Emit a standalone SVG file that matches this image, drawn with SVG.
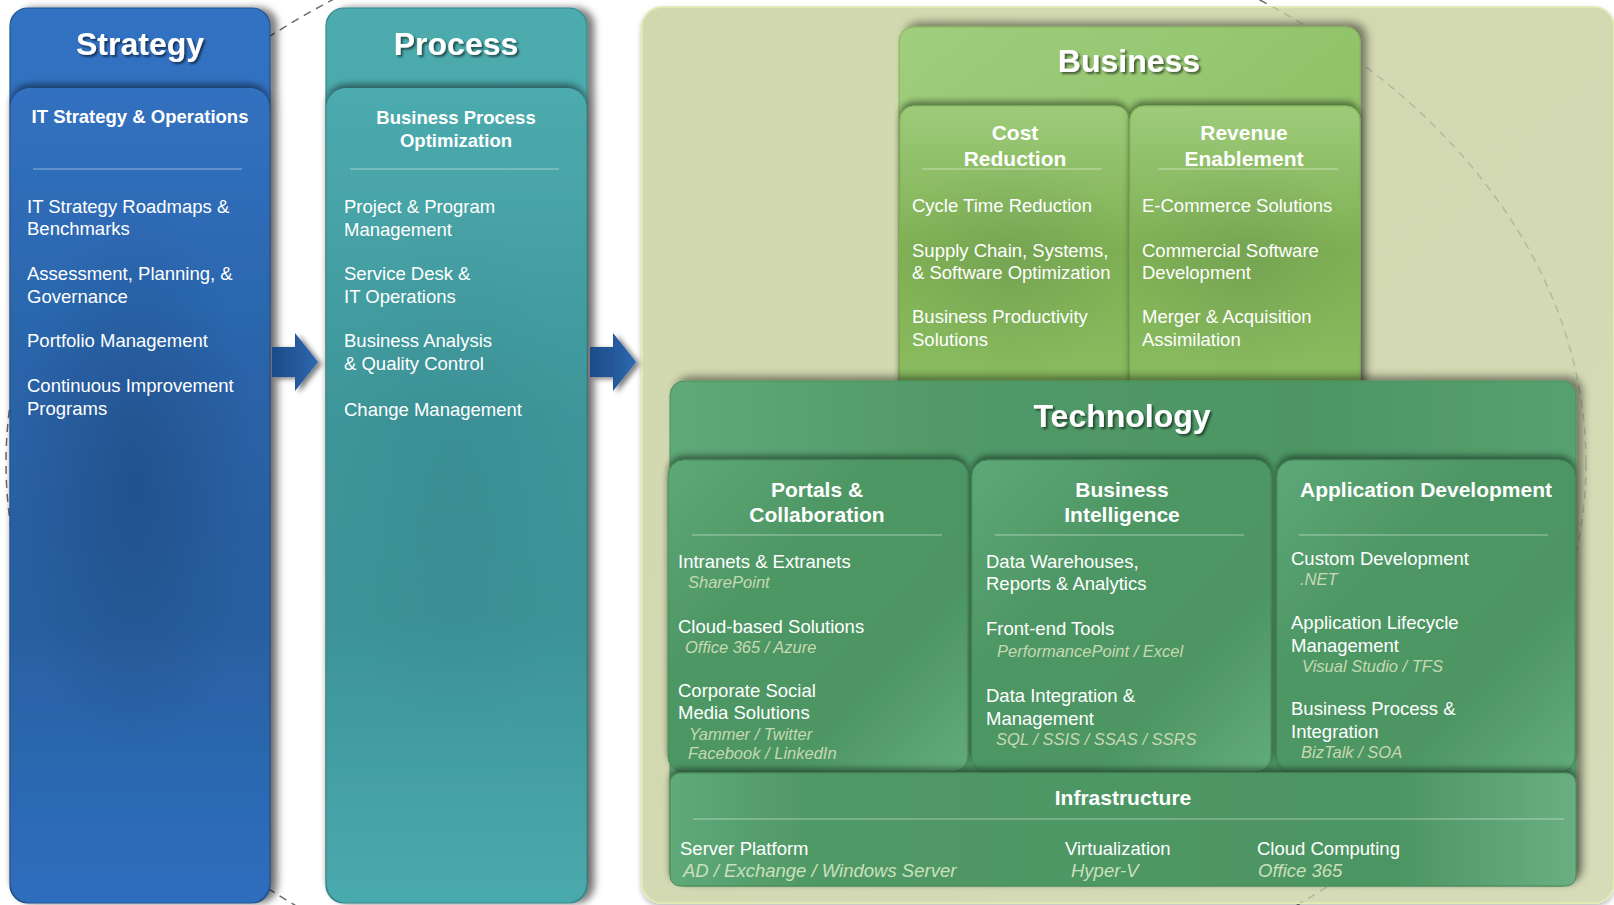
<svg xmlns="http://www.w3.org/2000/svg" width="1614" height="905" viewBox="0 0 1614 905">
<defs>
<style>
text{font-family:"Liberation Sans",Arial,Helvetica,sans-serif;fill:#ffffff}
.h1{font-size:32px;font-weight:bold;text-anchor:middle}
.h2{font-size:21px;font-weight:bold;text-anchor:middle}
.h3{font-size:18.5px;font-weight:bold;text-anchor:middle}
.it{font-size:18.5px}
.sub{font-size:16.5px;font-style:italic;fill:#c6d9b2}
.isub{font-size:18.5px;font-style:italic;fill:#cbe0bc}
.sep{stroke:#ffffff;stroke-opacity:.32;stroke-width:1.5}
.dash{fill:none;stroke-width:1.5;stroke-dasharray:8 6}
</style>
<filter id="tsh" x="-10%" y="-30%" width="130%" height="170%">
<feDropShadow dx="2" dy="2" stdDeviation="1.2" flood-color="#000" flood-opacity=".55"/>
</filter>
<filter id="colsh" x="-10%" y="-5%" width="125%" height="110%">
<feDropShadow dx="7" dy="0" stdDeviation="3.5" flood-color="#000" flood-opacity=".5"/>
</filter>
<filter id="cardsh" x="-10%" y="-10%" width="120%" height="120%">
<feDropShadow dx="0" dy="-4" stdDeviation="3" flood-color="#000" flood-opacity=".45"/>
</filter>
<filter id="pansh" x="-10%" y="-10%" width="120%" height="120%">
<feDropShadow dx="6" dy="-4" stdDeviation="4" flood-color="#000" flood-opacity=".45"/>
</filter>
<filter id="bgsh" x="-5%" y="-5%" width="110%" height="110%">
<feDropShadow dx="0" dy="3" stdDeviation="2.5" flood-color="#000" flood-opacity=".25"/>
</filter>
<filter id="arsh" x="-20%" y="-20%" width="150%" height="150%">
<feDropShadow dx="4" dy="2" stdDeviation="2.5" flood-color="#000" flood-opacity=".5"/>
</filter>
<linearGradient id="gStH" x1="0" y1="0" x2="0" y2="1"><stop offset="0" stop-color="#3272c2"/><stop offset="1" stop-color="#2b65ad"/></linearGradient>
<linearGradient id="gSt" x1="0" y1="0" x2="0" y2="1"><stop offset="0" stop-color="#3171c0"/><stop offset=".4" stop-color="#2962a6"/><stop offset=".65" stop-color="#2860a0"/><stop offset="1" stop-color="#2e6ebe"/></linearGradient>
<linearGradient id="gPrH" x1="0" y1="0" x2="0" y2="1"><stop offset="0" stop-color="#4dabad"/><stop offset="1" stop-color="#41a0a3"/></linearGradient>
<linearGradient id="gPr" x1="0" y1="0" x2="0" y2="1"><stop offset="0" stop-color="#4cabae"/><stop offset=".4" stop-color="#3e9699"/><stop offset=".65" stop-color="#3c9397"/><stop offset="1" stop-color="#4aaaad"/></linearGradient>
<radialGradient id="gDark" cx=".5" cy=".5" r=".5"><stop offset="0" stop-color="#0a1e3c" stop-opacity=".22"/><stop offset="1" stop-color="#0a1e3c" stop-opacity="0"/></radialGradient>
<linearGradient id="gAr" x1="0" y1="0" x2="1" y2="0"><stop offset="0" stop-color="#1c4c88"/><stop offset=".5" stop-color="#24589a"/><stop offset="1" stop-color="#2d69b0"/></linearGradient>
<linearGradient id="gBg" x1="0" y1="0" x2="1" y2="1"><stop offset="0" stop-color="#d1d8ae"/><stop offset=".6" stop-color="#d3d9b2"/><stop offset="1" stop-color="#d6dcb8"/></linearGradient>
<linearGradient id="gBzH" x1="0" y1="0" x2="1" y2="1"><stop offset="0" stop-color="#9fce7d"/><stop offset="1" stop-color="#86ba5b"/></linearGradient>
<linearGradient id="gBz" x1="0" y1="0" x2="0" y2="1"><stop offset="0" stop-color="#9dcb79"/><stop offset=".5" stop-color="#7eaf53"/><stop offset="1" stop-color="#8bbd61"/></linearGradient>
<linearGradient id="gTc" x1="0" y1="0" x2="1" y2="0"><stop offset="0" stop-color="#5fa978"/><stop offset=".3" stop-color="#519a68"/><stop offset=".7" stop-color="#4d9664"/><stop offset="1" stop-color="#56a16f"/></linearGradient>
<linearGradient id="gCol" x1="0" y1="0" x2="1" y2="1"><stop offset="0" stop-color="#5da877"/><stop offset=".35" stop-color="#4e9765"/><stop offset=".7" stop-color="#4d9664"/><stop offset="1" stop-color="#62ab7a"/></linearGradient>
<linearGradient id="gInf" x1="0" y1="0" x2="1" y2="0"><stop offset="0" stop-color="#5fa979"/><stop offset=".15" stop-color="#509966"/><stop offset=".8" stop-color="#4c9563"/><stop offset="1" stop-color="#6aaf81"/></linearGradient>
<clipPath id="bgclip"><rect x="642" y="7" width="972" height="896" rx="20"/></clipPath>
</defs>

<rect width="1614" height="905" fill="#ffffff"/>
<ellipse class="dash" cx="796" cy="463" rx="790" ry="572" stroke="#6a6a6a"/>

<g id="background-panel">
<rect x="642" y="7" width="972" height="896" rx="20" fill="url(#gBg)" stroke="#e2eab4" stroke-width="2" filter="url(#bgsh)"/>
<ellipse class="dash" cx="796" cy="463" rx="790" ry="572" stroke="#b4b8a0" clip-path="url(#bgclip)"/>
</g>

<g id="strategy">
<g filter="url(#colsh)">
<rect x="10" y="8" width="260" height="895" rx="18" fill="url(#gStH)" stroke="#21528e" stroke-width="1.2"/>
<rect x="10.6" y="88" width="258.8" height="814.4" rx="20" fill="url(#gSt)" filter="url(#cardsh)"/>
</g>
<rect x="15" y="200" width="240" height="560" fill="url(#gDark)"/>
<text class="h1" x="140" y="55" filter="url(#tsh)">Strategy</text>
<text class="h3" x="140" y="123">IT Strategy &amp; Operations</text>
<line class="sep" x1="33" y1="169" x2="242" y2="169"/>
<text class="it" x="27" y="213">IT Strategy Roadmaps &amp;</text>
<text class="it" x="27" y="235">Benchmarks</text>
<text class="it" x="27" y="280">Assessment, Planning, &amp;</text>
<text class="it" x="27" y="303">Governance</text>
<text class="it" x="27" y="347">Portfolio Management</text>
<text class="it" x="27" y="392">Continuous Improvement</text>
<text class="it" x="27" y="415">Programs</text>
</g>

<g id="process">
<g filter="url(#colsh)">
<rect x="326" y="8" width="261" height="895" rx="18" fill="url(#gPrH)" stroke="#34878b" stroke-width="1.2"/>
<rect x="326.6" y="88" width="259.8" height="814.4" rx="20" fill="url(#gPr)" filter="url(#cardsh)"/>
</g>
<rect x="331" y="200" width="250" height="560" fill="url(#gDark)" opacity=".25"/>
<text class="h1" x="456" y="55" filter="url(#tsh)">Process</text>
<text class="h3" x="456" y="124">Business Process</text>
<text class="h3" x="456" y="147">Optimization</text>
<line class="sep" x1="350" y1="169" x2="559" y2="169"/>
<text class="it" x="344" y="213">Project &amp; Program</text>
<text class="it" x="344" y="236">Management</text>
<text class="it" x="344" y="280">Service Desk &amp;</text>
<text class="it" x="344" y="303">IT Operations</text>
<text class="it" x="344" y="347">Business Analysis</text>
<text class="it" x="344" y="370">&amp; Quality Control</text>
<text class="it" x="344" y="416">Change Management</text>
</g>

<g id="connectors">
<path d="M272,347 H295 V333 L318,362 L295,391 V377 H272 Z" fill="url(#gAr)" filter="url(#arsh)"/>
<path d="M590,347 H613 V333 L636,362 L613,391 V377 H590 Z" fill="url(#gAr)" filter="url(#arsh)"/>
</g>

<g id="business">
<rect x="899" y="27" width="461" height="370" rx="14" fill="url(#gBzH)" stroke="#7fb454" stroke-width="1" filter="url(#pansh)"/>
<g id="cost-reduction">
<rect x="900" y="106" width="229" height="290" rx="14" fill="url(#gBz)" stroke="#80b556" stroke-width="1" filter="url(#cardsh)"/>
<rect x="905" y="150" width="220" height="230" fill="url(#gDark)" opacity=".35"/>
<text class="h2" x="1015" y="140">Cost</text>
<text class="h2" x="1015" y="166">Reduction</text>
<line class="sep" x1="922" y1="169" x2="1102" y2="169"/>
<text class="it" x="912" y="212">Cycle Time Reduction</text>
<text class="it" x="912" y="257">Supply Chain, Systems,</text>
<text class="it" x="912" y="279">&amp; Software Optimization</text>
<text class="it" x="912" y="323">Business Productivity</text>
<text class="it" x="912" y="346">Solutions</text>
</g>
<g id="revenue-enablement">
<rect x="1130" y="106" width="230" height="290" rx="14" fill="url(#gBz)" stroke="#80b556" stroke-width="1" filter="url(#cardsh)"/>
<rect x="1135" y="150" width="220" height="230" fill="url(#gDark)" opacity=".35"/>
<text class="h2" x="1244" y="140">Revenue</text>
<text class="h2" x="1244" y="166">Enablement</text>
<line class="sep" x1="1158" y1="169" x2="1338" y2="169"/>
<text class="it" x="1142" y="212">E-Commerce Solutions</text>
<text class="it" x="1142" y="257">Commercial Software</text>
<text class="it" x="1142" y="279">Development</text>
<text class="it" x="1142" y="323">Merger &amp; Acquisition</text>
<text class="it" x="1142" y="346">Assimilation</text>
</g>
<text class="h1" x="1129" y="72" filter="url(#tsh)">Business</text>
</g>

<g id="technology">
<rect x="670" y="381" width="906" height="505" rx="14" fill="url(#gTc)" stroke="#4a8f5e" stroke-width="1" filter="url(#pansh)"/>
<text class="h1" x="1122" y="427" filter="url(#tsh)">Technology</text>
<g id="portals">
<rect x="668" y="460" width="300" height="312" rx="16" fill="url(#gCol)" stroke="#468b5b" stroke-width="1" filter="url(#cardsh)"/>
<text class="h2" x="817" y="497">Portals &amp;</text>
<text class="h2" x="817" y="522">Collaboration</text>
<line class="sep" x1="692" y1="535" x2="942" y2="535"/>
<text class="it" x="678" y="568">Intranets &amp; Extranets</text>
<text class="sub" x="688" y="588">SharePoint</text>
<text class="it" x="678" y="633">Cloud-based Solutions</text>
<text class="sub" x="685" y="653">Office 365 / Azure</text>
<text class="it" x="678" y="697">Corporate Social</text>
<text class="it" x="678" y="719">Media Solutions</text>
<text class="sub" x="689" y="740">Yammer / Twitter</text>
<text class="sub" x="688" y="759">Facebook / LinkedIn</text>
</g>
<g id="business-intelligence">
<rect x="972" y="460" width="299" height="312" rx="16" fill="url(#gCol)" stroke="#468b5b" stroke-width="1" filter="url(#cardsh)"/>
<text class="h2" x="1122" y="497">Business</text>
<text class="h2" x="1122" y="522">Intelligence</text>
<line class="sep" x1="995" y1="535" x2="1244" y2="535"/>
<text class="it" x="986" y="568">Data Warehouses,</text>
<text class="it" x="986" y="590">Reports &amp; Analytics</text>
<text class="it" x="986" y="635">Front-end Tools</text>
<text class="sub" x="997" y="657">PerformancePoint / Excel</text>
<text class="it" x="986" y="702">Data Integration &amp;</text>
<text class="it" x="986" y="725">Management</text>
<text class="sub" x="996" y="745">SQL / SSIS / SSAS / SSRS</text>
</g>
<g id="application-development">
<rect x="1277" y="460" width="298" height="312" rx="16" fill="url(#gCol)" stroke="#468b5b" stroke-width="1" filter="url(#cardsh)"/>
<text class="h2" x="1426" y="497">Application Development</text>
<line class="sep" x1="1299" y1="535" x2="1548" y2="535"/>
<text class="it" x="1291" y="565">Custom Development</text>
<text class="sub" x="1300" y="585">.NET</text>
<text class="it" x="1291" y="629">Application Lifecycle</text>
<text class="it" x="1291" y="652">Management</text>
<text class="sub" x="1302" y="672">Visual Studio / TFS</text>
<text class="it" x="1291" y="715">Business Process &amp;</text>
<text class="it" x="1291" y="738">Integration</text>
<text class="sub" x="1301" y="758">BizTalk / SOA</text>
</g>
<g id="infrastructure">
<rect x="670" y="773" width="906" height="113" rx="10" fill="url(#gInf)" stroke="#468b5b" stroke-width="1" filter="url(#cardsh)"/>
<text class="h2" x="1123" y="805">Infrastructure</text>
<line class="sep" x1="693" y1="819" x2="1564" y2="819"/>
<text class="it" x="680" y="855">Server Platform</text>
<text class="isub" x="683" y="877">AD / Exchange / Windows Server</text>
<text class="it" x="1065" y="855">Virtualization</text>
<text class="isub" x="1071" y="877">Hyper-V</text>
<text class="it" x="1257" y="855">Cloud Computing</text>
<text class="isub" x="1258" y="877">Office 365</text>
</g>
</g>
</svg>
